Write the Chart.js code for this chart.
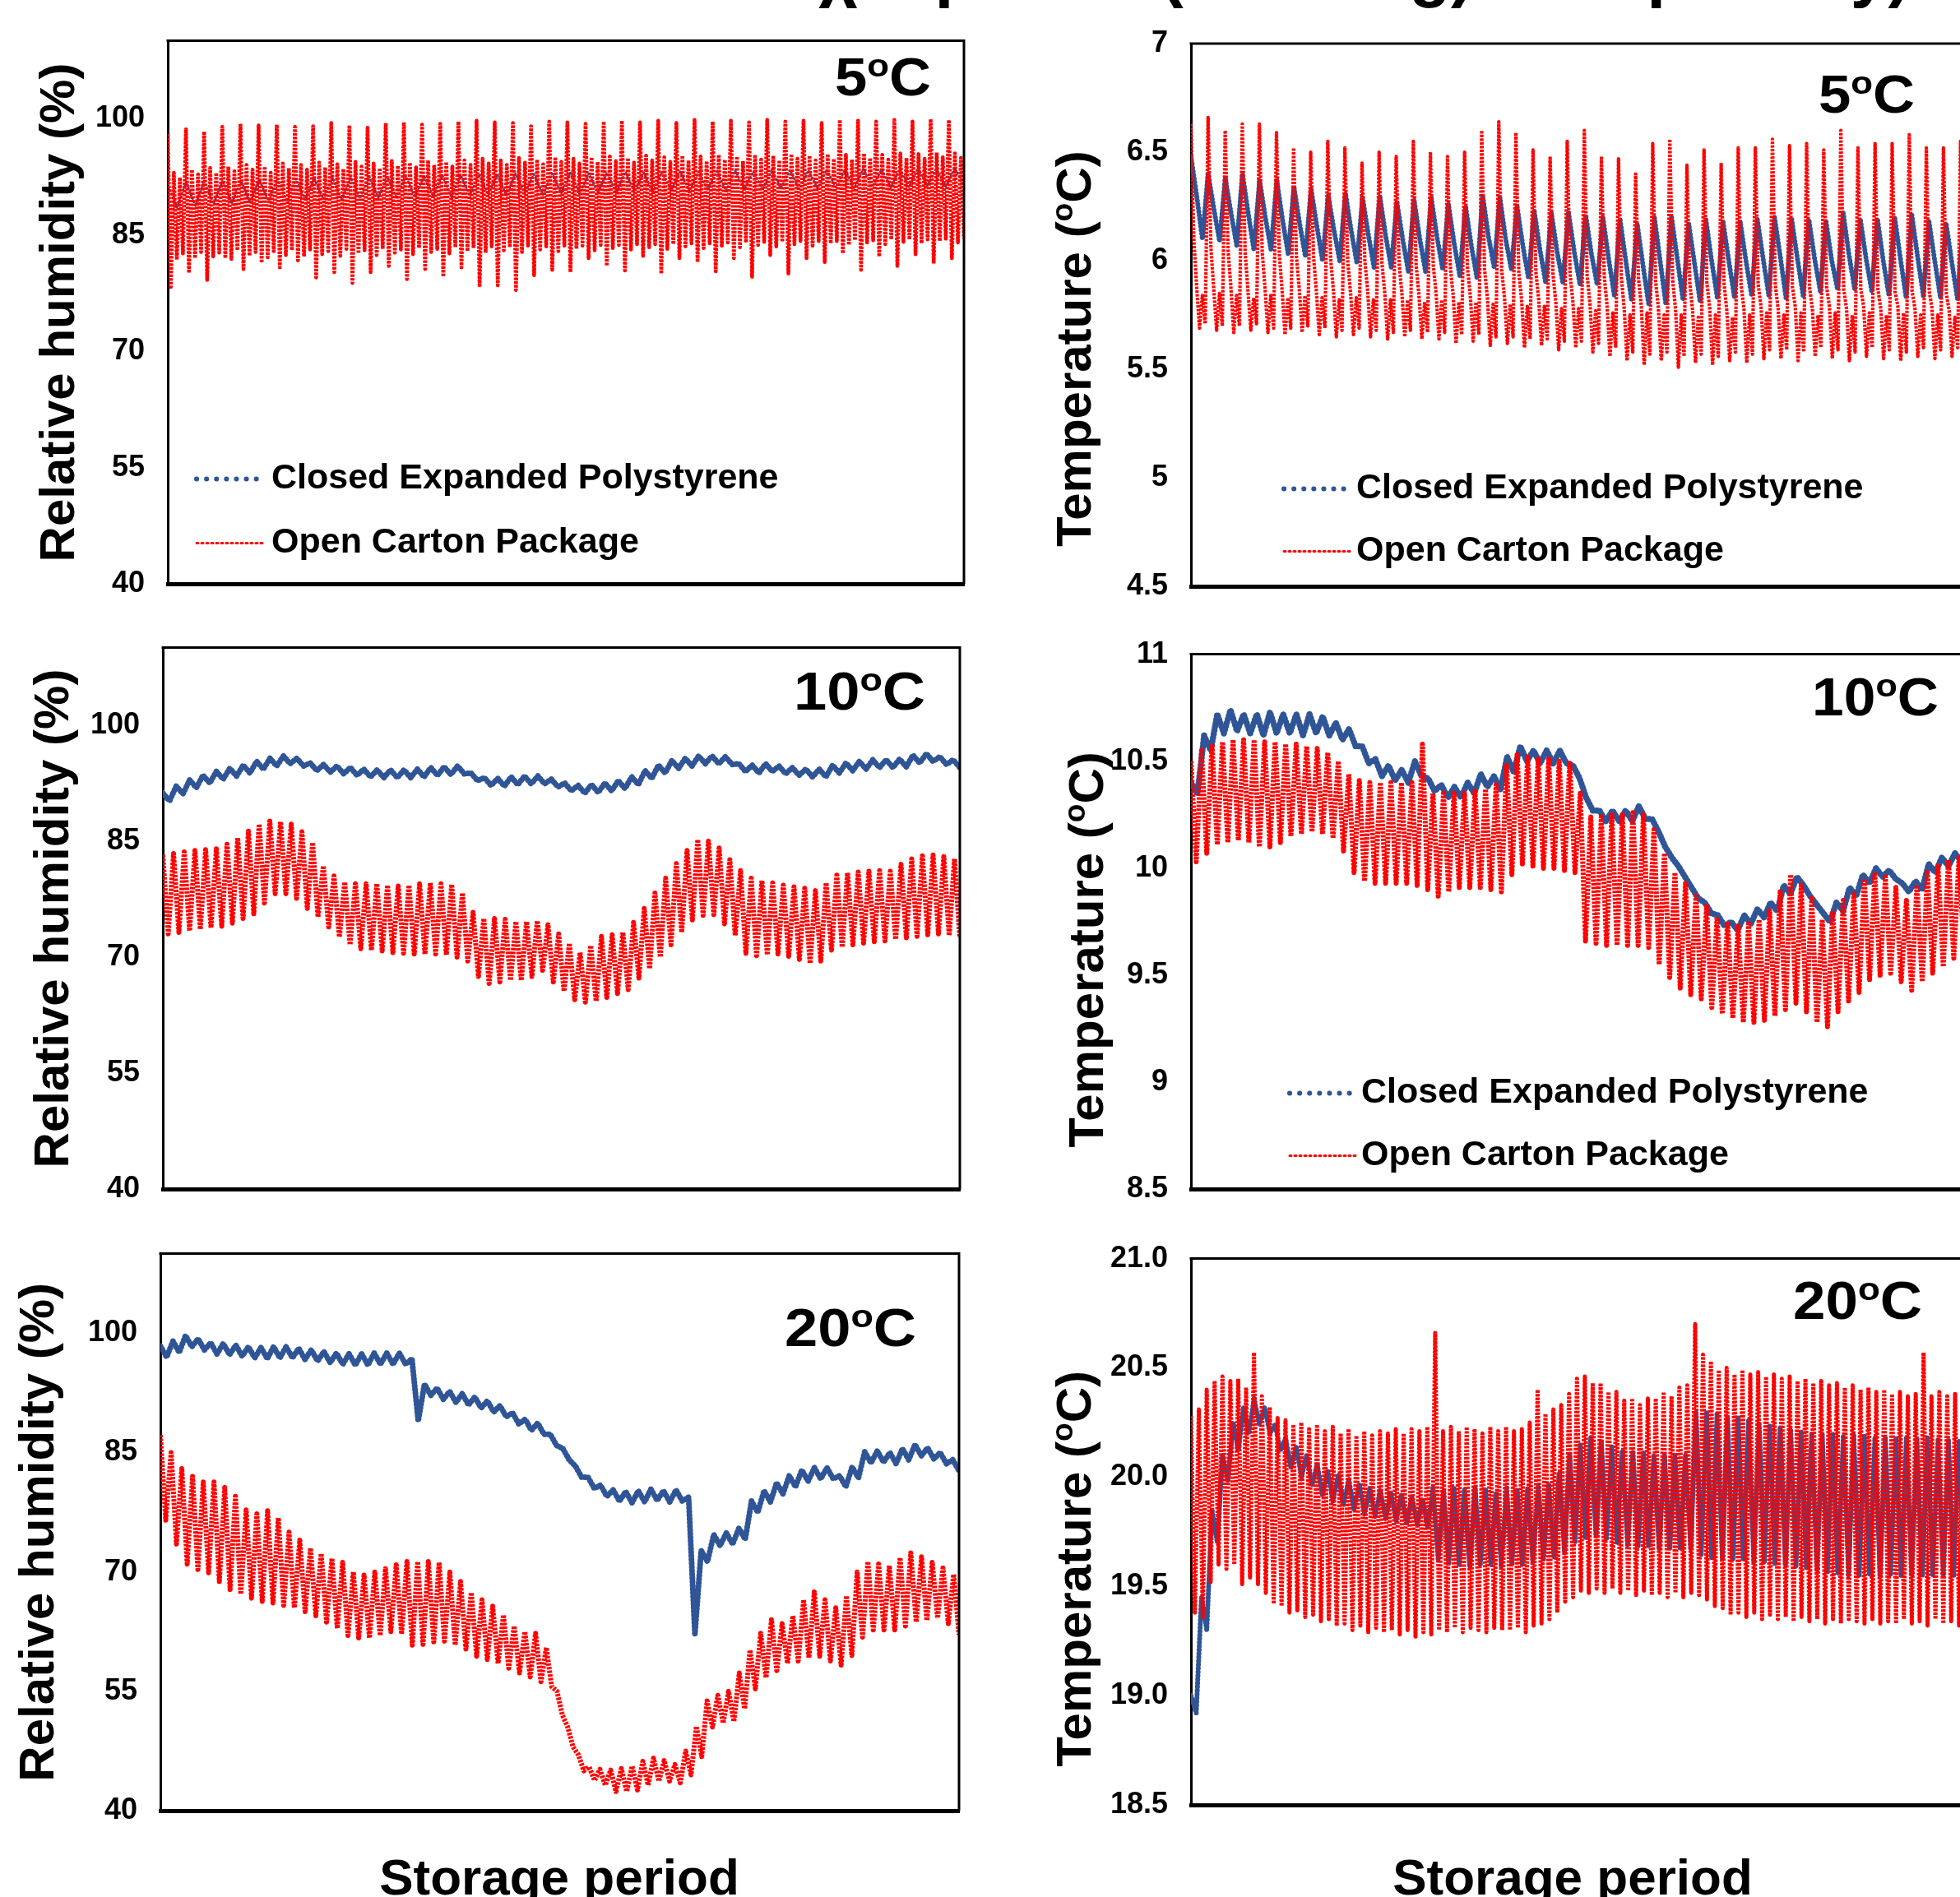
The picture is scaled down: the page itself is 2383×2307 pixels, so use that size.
<!DOCTYPE html>
<html>
<head>
<meta charset="utf-8">
<script src="https://cdn.jsdelivr.net/npm/chart.js@4.4.1/dist/chart.umd.min.js"></script>
<style>
html, body { margin:0; padding:0; background:#fff; width:2383px; height:2307px; overflow:hidden; position:relative; }
canvas { position:absolute; }
#cut { position:absolute; left:995px; top:-80px; font:bold 85px "Liberation Sans", Arial, sans-serif; line-height:85px; white-space:nowrap; color:#000; transform:scaleX(0.97); transform-origin:left top; }
</style>
</head>
<body>
<div id="cut">χ = period (Reading) 24 h per day)</div>
<script>
// ---- series names / axis text
const seriesNames = ['Closed Expanded Polystyrene', 'Open Carton Package'];
const rhTicks = [40, 55, 70, 85, 100];
const rhTickText = ['40', '55', '70', '85', '100'];
const t5Ticks = [4.5, 5, 5.5, 6, 6.5, 7];
const t5TickText = ['4.5', '5', '5.5', '6', '6.5', '7'];
const t10Ticks = [8.5, 9, 9.5, 10, 10.5, 11];
const t10TickText = ['8.5', '9', '9.5', '10', '10.5', '11'];
const t20Ticks = [18.5, 19, 19.5, 20, 20.5, 21];
const t20TickText = ['18.5', '19.0', '19.5', '20.0', '20.5', '21.0'];

// ---- 5 C, relative humidity (one spike per cycle, band read twice per cycle)
const rh5OpenPeak = [98.0,98.6,98.3,98.9,99.3,99.1,99.2,98.9,99.0,99.4,99.1,98.8,
  99.4,99.5,99.2,99.3,99.6,99.7,99.5,99.4,99.0,99.6,99.5,99.3,
  99.6,99.7,99.5,99.7,99.4,99.8,99.6,99.7,99.5,99.8,99.6,99.7,
  99.4,99.8,99.7,99.6,99.8,99.6,99.9,99.8];
const rh5OpenDip = [78.3,80.1,79.2,82.0,80.6,81.4,80.8,81.7,79.5,80.2,78.8,80.2,
  81.0,79.3,80.6,79.6,80.8,78.3,78.5,77.9,79.8,80.5,80.2,82.0,
  81.0,80.4,82.3,80.0,82.0,81.5,80.3,82.0,79.6,82.4,80.0,82.0,
  81.5,82.6,80.5,82.2,81.0,82.5,81.3,82.0];
const rh5OpenHigh = [93.0,92.4,93.4,92.8,93.6,93.0,93.8,93.2,94.0,93.4,93.8,93.0,
  94.2,93.6,94.0,93.4,94.3,93.7,94.1,93.5,94.4,93.8,94.2,93.6,
  94.5,93.9,94.3,93.7,94.6,94.0,94.4,93.8,94.6,94.0,94.8,94.2,
  94.6,94.0,94.9,94.3,94.7,94.1,95.0,94.4,94.8,94.2,95.0,94.4,
  95.1,94.5,94.9,94.3,95.2,94.6,95.0,94.4,95.2,94.6,95.1,94.5,
  95.3,94.7,95.1,94.5,95.3,94.7,95.2,94.6,95.4,94.8,95.2,94.6,
  95.4,94.8,95.3,94.7,95.5,94.9,95.3,94.7,95.5,94.9,95.4,94.8,
  95.6,95.0,95.5,94.9];
const rh5OpenLow = [81.8,82.6,82.0,82.8,82.2,82.7,81.9,83.0,82.3,82.8,82.1,82.9,
  82.4,83.0,82.2,83.1,82.5,82.9,82.3,83.2,82.6,83.0,82.4,83.2,
  82.7,83.1,82.5,83.3,82.8,83.2,82.6,83.4,82.9,83.3,82.7,83.5,
  83.0,83.4,82.8,83.6,83.1,83.5,82.9,83.6,83.2,83.6,83.0,83.7,
  83.3,83.7,83.1,83.8,83.4,83.8,83.2,83.8,83.5,83.9,83.3,83.9,
  83.6,84.0,83.4,84.0,83.7,84.1,83.5,84.1,83.8,84.2,83.6,84.2,
  83.9,84.2,83.7,84.3,84.0,84.3,83.8,84.4,84.1,84.4,83.9,84.4,
  84.2,84.5,84.0,84.5];
const rh5ClosedHigh = [91.6,91.8,91.9,92.0,92.0,92.1,92.2,92.2,92.3,92.4,92.4,92.5,
  92.5,92.6,92.6,92.7,92.7,92.8,92.8,92.9,92.8,92.9,93.0,92.9,
  93.0,93.1,93.0,93.1,93.2,93.1,93.2,93.3,93.2,93.3,93.4,93.3,
  93.4,93.4,93.5,93.4,93.5,93.6,93.5,93.6];
const rh5ClosedLow = [88.5,88.8,89.0,89.1,89.2,89.4,89.3,89.5,89.6,89.5,89.7,89.8,
  89.7,89.9,90.0,89.9,90.1,90.2,90.1,90.3,90.2,90.4,90.3,90.5,
  90.4,90.6,90.5,90.7,90.6,90.8,90.7,90.9,90.8,91.0,90.9,91.0,
  91.1,91.0,91.2,91.1,91.2,91.3,91.2,91.3];

// ---- 10 C, relative humidity (upper / lower turning points)
const rh10OpenHigh = [83.2,83.4,83.6,83.8,83.9,84.0,84.6,85.4,86.3,87.2,
  87.6,87.5,87.2,86.2,84.8,81.8,80.5,79.7,79.5,79.5,
  79.5,79.3,79.2,79.3,79.5,79.6,79.5,79.4,78.3,75.8,
  75.0,75.0,74.9,74.6,74.6,74.7,74.2,73.0,71.8,70.6,
  71.5,72.7,72.9,73.2,74.5,76.3,78.3,80.2,82.1,83.8,
  85.2,85.0,84.1,82.6,81.2,80.2,79.9,79.6,79.3,79.1,
  78.9,78.6,79.6,80.6,80.9,81.0,81.1,81.2,81.1,82.0,
  82.7,83.1,83.2,83.0,82.7];
const rh10OpenLow = [73.0,73.2,73.4,73.6,73.8,74.0,74.4,75.0,75.6,77.0,
  78.2,78.2,77.6,76.3,75.2,73.9,72.6,71.6,71.1,70.9,
  70.8,70.6,70.5,70.4,70.4,70.4,70.3,70.0,69.5,67.5,
  66.6,66.8,67.0,67.0,67.5,68.3,66.8,65.6,64.5,64.2,
  64.3,64.8,65.3,65.8,67.3,68.5,70.0,71.6,73.2,74.8,
  75.4,75.5,74.3,72.8,70.5,70.2,70.3,70.4,70.1,69.7,
  69.2,69.5,70.9,71.3,71.6,71.8,72.0,72.1,72.3,72.5,
  72.7,72.9,73.0,72.8,72.5];
const rh10ClosedHigh = [91.2,92.1,92.9,93.5,94.0,94.4,94.8,95.3,95.7,96.0,
  95.7,95.1,94.9,94.7,94.5,94.3,94.2,94.2,94.2,94.3,
  94.5,94.6,94.7,93.8,93.2,93.1,93.3,93.4,93.4,93.0,
  92.5,92.2,92.3,92.5,92.8,93.3,94.1,94.8,95.4,95.7,
  96.0,96.0,95.9,95.0,94.8,95.0,94.7,94.5,94.3,94.3,
  94.8,95.1,95.3,95.5,95.5,95.6,96.1,96.3,95.9,95.5];
const rh10ClosedLow = [90.2,91.1,91.9,92.5,93.0,93.4,93.8,94.3,94.7,95.0,
  94.7,94.1,93.9,93.7,93.5,93.3,93.2,93.2,93.2,93.3,
  93.5,93.6,93.7,92.8,92.2,92.1,92.3,92.4,92.4,92.0,
  91.5,91.2,91.3,91.5,91.8,92.3,93.1,93.8,94.4,94.7,
  95.0,95.0,94.9,94.0,93.8,94.0,93.7,93.5,93.3,93.3,
  93.8,94.1,94.3,94.5,94.5,94.6,95.1,95.3,94.9,94.5];

// ---- 20 C, relative humidity
const rh20OpenHigh = [87.2,85.0,83.0,82.0,81.3,81.3,80.6,79.5,77.8,77.3,
  77.7,76.8,75.0,74.0,73.0,72.3,71.7,71.2,70.0,69.6,
  70.0,70.4,70.9,71.3,71.3,71.3,71.2,70.0,68.8,67.4,
  66.5,65.7,64.6,63.2,62.5,62.3,60.5,55.0,50.5,47.0,
  45.5,45.2,45.1,45.3,45.6,46.2,46.6,46.3,45.8,47.5,
  50.6,53.8,54.5,55.0,57.3,60.2,62.3,64.0,63.5,64.5,
  66.5,67.5,66.5,65.5,67.0,70.0,71.3,71.0,70.8,71.8,
  72.4,71.9,71.2,70.5,69.7];
const rh20OpenLow = [76.5,73.5,71.0,70.3,69.9,68.8,67.8,67.2,66.7,66.3,
  66.1,65.8,65.5,65.0,64.5,63.7,62.9,62.0,61.7,61.7,
  62.0,62.5,62.2,60.8,60.9,61.2,61.3,60.8,60.3,59.4,
  59.0,58.5,57.9,57.3,56.8,56.2,55.6,52.0,48.0,45.0,
  43.8,43.2,42.4,42.4,42.6,43.2,43.7,43.7,43.5,44.5,
  46.8,50.5,51.0,51.2,52.8,55.3,56.7,57.6,58.5,58.8,
  59.2,59.4,58.8,58.3,59.5,61.8,62.7,62.7,62.7,63.2,
  63.7,63.9,64.2,63.5,62.1];
const rh20ClosedHigh = [98.4,99.0,99.7,99.3,98.8,98.7,98.5,98.3,98.2,98.3,
  98.3,98.1,97.9,97.7,97.5,97.4,97.4,97.5,97.5,97.5,
  96.8,93.6,93.1,92.7,92.4,92.0,91.5,90.9,90.0,89.2,
  88.7,87.3,85.5,83.3,81.9,80.9,80.3,80.1,80.2,80.4,
  80.2,80.3,79.4,72.7,74.7,74.9,75.5,78.9,80.2,81.2,
  82.1,82.8,83.1,83.1,82.1,83.2,85.1,85.2,85.0,85.5,
  86.0,85.6,85.0,84.1];
const rh20ClosedLow = [97.0,97.6,98.3,97.9,97.4,97.3,97.1,96.9,96.8,96.9,
  96.9,96.7,96.5,96.3,96.1,96.0,96.0,96.1,96.1,96.1,
  89.0,92.2,91.7,91.3,91.0,90.6,90.1,89.5,88.6,87.8,
  87.3,85.9,84.1,81.9,80.5,79.5,78.9,78.7,78.8,79.0,
  78.8,78.9,62.2,71.3,73.3,73.5,74.1,77.5,78.8,79.8,
  80.7,81.4,81.7,81.7,80.7,81.8,83.7,83.8,83.6,84.1,
  84.6,84.2,83.6,82.7];

// ---- 5 C, temperature (one door/defrost cycle per entry)
const t5OpenPeak = [6.63,6.66,6.60,6.63,6.63,6.59,6.52,6.50,6.55,6.52,6.45,6.50,
  6.48,6.55,6.50,6.48,6.50,6.60,6.64,6.59,6.51,6.48,6.55,6.60,
  6.48,6.47,6.40,6.54,6.56,6.44,6.51,6.45,6.52,6.52,6.56,6.53,
  6.54,6.51,6.60,6.52,6.54,6.54,6.58,6.52,6.52,6.55];
const t5OpenKnee = [6.10,6.06,6.05,6.04,6.04,6.03,6.02,6.02,6.01,6.00,6.00,5.99,
  5.99,5.98,5.98,5.97,5.97,5.96,5.96,5.95,5.95,5.94,5.94,5.93,
  5.93,5.92,5.92,5.91,5.91,5.90,5.90,5.90,5.89,5.89,5.89,5.88,
  5.88,5.88,5.87,5.87,5.87,5.86,5.86,5.86,5.85,5.85];
const t5OpenHigh = [5.88,5.84,5.87,5.85,5.88,5.84,5.86,5.83,5.87,5.84,5.86,5.83,
  5.87,5.84,5.86,5.83,5.86,5.82,5.85,5.83,5.86,5.82,5.85,5.82,
  5.85,5.82,5.84,5.81,5.85,5.82,5.84,5.81,5.84,5.81,5.83,5.80,
  5.83,5.80,5.82,5.79,5.82,5.79,5.81,5.78,5.81,5.78,5.80,5.77,
  5.79,5.76,5.78,5.75,5.79,5.76,5.78,5.75,5.78,5.75,5.77,5.74,
  5.78,5.75,5.77,5.74,5.78,5.75,5.79,5.76,5.78,5.75,5.79,5.76,
  5.78,5.75,5.79,5.76,5.78,5.75,5.79,5.76,5.78,5.75,5.79,5.76,
  5.78,5.75,5.78,5.75,5.77,5.74,5.78,5.75];
const t5OpenLow = [5.69,5.71,5.68,5.70,5.67,5.70,5.68,5.71,5.67,5.69,5.66,5.69,
  5.67,5.70,5.66,5.69,5.65,5.68,5.66,5.69,5.65,5.68,5.64,5.67,
  5.65,5.68,5.64,5.67,
  5.64,5.67,5.62,5.66,5.63,5.66,5.61,5.65,5.62,5.65,5.60,5.64,
  5.61,5.64,5.59,5.63,5.60,5.63,5.58,5.62,
  5.56,5.60,5.54,5.58,5.52,5.57,5.54,5.58,5.51,5.56,5.53,5.57,
  5.52,5.56,5.54,5.58,5.53,5.57,5.55,5.59,
  5.55,5.59,5.54,5.58,5.56,5.60,5.55,5.59,5.54,5.58,5.56,5.60,
  5.55,5.59,5.54,5.58,5.56,5.60,5.55,5.59,5.56,5.60,5.55,5.59];
const t5ClosedPeak = [6.48,6.40,6.38,6.40,6.37,6.37,6.34,6.33,6.30,6.31,6.29,6.30,
  6.27,6.28,6.29,6.26,6.25,6.30,6.29,6.25,6.23,6.22,6.22,6.21,
  6.20,6.19,6.17,6.20,6.20,6.17,6.19,6.18,6.18,6.19,6.20,6.19,
  6.19,6.18,6.22,6.19,6.19,6.20,6.21,6.18,6.17,6.18];
const t5ClosedKnee = [6.30,6.24,6.22,6.22,6.20,6.19,6.17,6.16,6.14,6.14,6.12,6.12,
  6.10,6.10,6.11,6.08,6.07,6.11,6.10,6.07,6.05,6.04,6.04,6.03,
  6.01,6.00,5.98,6.00,6.01,5.99,6.00,6.00,6.00,6.01,6.02,6.01,
  6.01,6.00,6.03,6.01,6.00,6.01,6.02,6.00,5.99,6.00];
const t5ClosedLow = [6.10,6.09,6.07,6.05,6.05,6.03,6.02,6.00,6.00,5.99,5.97,5.97,
  5.95,5.95,5.96,5.93,5.92,5.97,5.96,5.92,5.90,5.90,5.89,5.89,
  5.84,5.82,5.80,5.80,5.82,5.81,5.83,5.83,5.84,5.84,5.83,5.84,
  5.86,5.87,5.87,5.86,5.84,5.83,5.84,5.83,5.82,5.83];

// ---- 10 C, temperature
const t10OpenHigh = [10.50,10.55,10.58,10.59,10.60,10.60,10.60,10.59,10.59,10.58,
  10.58,10.57,10.56,10.54,10.50,10.44,10.41,10.40,10.40,10.40,
  10.40,10.40,10.58,10.35,10.35,10.35,10.35,10.36,10.37,10.39,
  10.48,10.53,10.52,10.51,10.51,10.50,10.49,10.35,10.24,10.24,
  10.25,10.25,10.26,10.25,10.18,10.07,9.98,9.93,9.88,9.82,
  9.77,9.75,9.73,9.74,9.76,9.80,9.89,9.97,9.92,9.86,
  9.76,9.80,9.85,9.88,9.95,9.97,9.96,9.91,9.85,9.92,
  9.98,10.01,10.04,10.05,10.06];
const t10OpenLow = [10.03,10.07,10.11,10.12,10.13,10.12,10.10,10.10,10.12,10.15,
  10.16,10.17,10.16,10.14,10.08,9.98,9.94,9.93,9.93,9.93,
  9.93,9.92,9.90,9.87,9.89,9.91,9.91,9.91,9.90,9.89,
  9.97,10.02,10.01,10.00,10.00,9.99,9.98,9.66,9.65,9.64,
  9.64,9.64,9.64,9.63,9.55,9.49,9.44,9.41,9.39,9.35,
  9.32,9.30,9.28,9.28,9.29,9.31,9.34,9.37,9.33,9.28,
  9.26,9.33,9.38,9.42,9.48,9.50,9.51,9.47,9.43,9.47,
  9.51,9.54,9.58,9.59,9.60];
const t10ClosedHigh = [10.40,10.62,10.72,10.74,10.72,10.72,10.73,10.72,10.72,10.72,
  10.71,10.68,10.65,10.57,10.51,10.48,10.46,10.50,10.42,10.39,
  10.38,10.40,10.44,10.43,10.52,10.57,10.55,10.55,10.55,10.48,
  10.33,10.27,10.27,10.27,10.29,10.23,10.10,10.01,9.91,9.84,
  9.78,9.75,9.78,9.81,9.84,9.92,9.96,9.87,9.79,9.84,
  9.91,9.97,10.00,9.99,9.93,9.94,10.02,10.05,10.07,10.08];
const t10ClosedLow = [10.35,10.55,10.63,10.64,10.63,10.62,10.63,10.63,10.62,10.63,
  10.62,10.60,10.57,10.49,10.43,10.41,10.40,10.43,10.36,10.33,
  10.33,10.35,10.38,10.37,10.45,10.50,10.49,10.49,10.49,10.42,
  10.27,10.22,10.22,10.22,10.23,10.17,10.05,9.96,9.86,9.79,
  9.73,9.71,9.74,9.77,9.80,9.88,9.92,9.83,9.75,9.80,
  9.87,9.93,9.96,9.95,9.89,9.90,9.98,10.01,10.03,10.04];

// ---- 20 C, temperature
const t20OpenHigh = [20.28,20.31,20.40,20.44,20.46,20.44,20.45,20.41,20.57,20.37,
  20.32,20.27,20.26,20.24,20.25,20.22,20.24,20.21,20.23,20.20,
  20.22,20.19,20.21,20.19,20.21,20.20,20.22,20.20,20.22,20.21,
  20.23,20.66,20.21,20.23,20.21,20.23,20.22,20.20,20.23,20.21,
  20.23,20.21,20.22,20.25,20.40,20.29,20.31,20.33,20.38,20.45,
  20.46,20.43,20.43,20.39,20.39,20.35,20.36,20.33,20.36,20.36,
  20.39,20.37,20.41,20.42,20.70,20.56,20.53,20.49,20.50,20.47,
  20.49,20.47,20.48,20.46,20.47,20.45,20.46,20.44,20.45,20.43,
  20.44,20.42,20.43,20.41,20.42,20.40,20.41,20.39,20.40,20.38,
  20.39,20.37,20.38,20.57,20.37,20.39,20.37,20.38,20.36,20.38];
const t20OpenLow = [19.38,19.36,19.52,19.60,19.58,19.60,19.51,19.54,19.51,19.47,
  19.42,19.41,19.38,19.39,19.36,19.37,19.34,19.35,19.32,19.33,
  19.30,19.32,19.29,19.31,19.29,19.30,19.28,19.30,19.27,19.29,
  19.28,19.30,19.29,19.31,19.29,19.31,19.30,19.29,19.31,19.30,
  19.30,19.31,19.29,19.32,19.33,19.35,19.38,19.43,19.45,19.48,
  19.47,19.49,19.47,19.49,19.47,19.48,19.46,19.48,19.46,19.47,
  19.45,19.47,19.45,19.47,19.46,19.44,19.41,19.40,19.37,19.38,
  19.36,19.38,19.35,19.37,19.35,19.36,19.34,19.36,19.34,19.35,
  19.33,19.35,19.33,19.35,19.34,19.33,19.35,19.33,19.34,19.33,
  19.35,19.33,19.34,19.32,19.35,19.33,19.34,19.32,19.34,19.33];
const t20ClosedHigh = [19.00,19.45,19.85,20.10,20.25,20.32,20.36,20.32,20.24,20.18,
  20.14,20.10,20.06,20.03,20.01,19.99,19.97,19.95,19.94,19.93,
  19.92,19.91,19.90,19.95,19.94,19.95,19.94,19.95,19.94,19.93,
  19.95,19.94,19.95,19.96,19.97,20.02,20.10,20.15,20.18,20.16,
  20.14,20.12,20.12,20.11,20.10,20.10,20.10,20.10,20.30,20.30,
  20.29,20.28,20.27,20.26,20.25,20.24,20.23,20.22,20.21,20.20,
  20.20,20.20,20.19,20.19,20.19,20.18,20.18,20.18,20.18,20.18,
  20.18,20.17,20.17,20.17,20.17];
const t20ClosedLow = [18.92,19.30,19.70,19.98,20.12,20.20,20.24,20.20,20.12,20.04,
  20.00,19.96,19.92,19.89,19.87,19.85,19.83,19.82,19.81,19.80,
  19.79,19.78,19.77,19.62,19.60,19.60,19.59,19.60,19.60,19.59,
  19.60,19.60,19.61,19.62,19.63,19.66,19.70,19.72,19.73,19.72,
  19.70,19.69,19.68,19.68,19.67,19.67,19.67,19.67,19.64,19.63,
  19.63,19.62,19.62,19.61,19.61,19.60,19.60,19.59,19.58,19.57,
  19.56,19.56,19.55,19.55,19.55,19.55,19.55,19.55,19.55,19.55,
  19.55,19.55,19.55,19.55,19.55];

// ---- helpers
const FONT = '"Liberation Sans", Arial, sans-serif';
const RED = '#ff0000';
const BLUE = '#2f5597';
Chart.defaults.font.family = FONT;

// readings taken in logging order: a0,b0,c0, a1,b1,c1 ...
function weave(...cols) {
    const out = [];
    for (let k = 0; k < cols[0].length; k++) cols.forEach(c => out.push(c[k]));
    return out;
}
// one cycle = peak, second reading, then two band swings
function spikeCycles(peak, second, high, low) {
    const out = [];
    for (let k = 0; k < peak.length; k++) {
        out.push(peak[k], second[k], high[2*k], low[2*k], high[2*k+1], low[2*k+1]);
    }
    return out;
}
function toXY(arr) {
    return arr.map((v, i) => ({ x: i / (arr.length - 1), y: v }));
}

function drawParts(ctx, parts, x, y, size, align, targetW) {
    ctx.save();
    ctx.textBaseline = 'alphabetic';
    ctx.textAlign = 'left';
    const fonts = parts.map(([, sup]) => `bold ${sup ? size * 0.62 : size}px ${FONT}`);
    const widths = parts.map(([t], i) => { ctx.font = fonts[i]; return ctx.measureText(t).width; });
    const w = widths.reduce((a, b) => a + b, 0);
    const sx = targetW ? targetW / w : 1;
    ctx.translate(x, y);
    ctx.scale(sx, 1);
    let cx = align === 'right' ? -w : align === 'center' ? -w / 2 : 0;
    parts.forEach(([t, sup], i) => {
        ctx.font = fonts[i];
        ctx.fillText(t, cx, sup ? -size * 0.36 : 0);
        cx += widths[i];
    });
    ctx.restore();
}

const rhTitle = [['Relative humidity (%)', 0]];
const tTitle = [['Temperature (', 0], ['o', 1], ['C)', 0]];

const panels = [
    { cv: [0, 0, 1192, 760], L: 204, T: 33, R: 1172, B: 711, min: 40, max: 110, ticks: rhTicks, tickText: rhTickText,
      red: spikeCycles(rh5OpenPeak, rh5OpenDip, rh5OpenHigh, rh5OpenLow), blue: weave(rh5ClosedHigh, rh5ClosedLow),
      redW: 4.6, blueW: 3,
      title: rhTitle, titleDX: 136, titleDY: 0, tag: '5', tagRight: 40, tagBase: 66, tagW: 117,
      legend: { lx: 35, tx: 126, rows: [128, 50] } },
    { cv: [0, 738, 1187, 1496], L: 198, T: 778, R: 1167, B: 1456, min: 40, max: 110, ticks: rhTicks, tickText: rhTickText,
      red: weave(rh10OpenHigh, rh10OpenLow), blue: weave(rh10ClosedHigh, rh10ClosedLow),
      redW: 6, blueW: 7,
      title: rhTitle, titleDX: 137, titleDY: 0, tag: '10', tagRight: 42, tagBase: 75, tagW: 160 },
    { cv: [0, 1475, 1186, 2307], L: 195, T: 1515, R: 1166, B: 2202, min: 40, max: 110, ticks: rhTicks, tickText: rhTickText,
      red: weave(rh20OpenHigh, rh20OpenLow), blue: weave(rh20ClosedHigh, rh20ClosedLow),
      redW: 6, blueW: 7,
      title: rhTitle, titleDX: 152, titleDY: 0, tag: '20', tagRight: 52, tagBase: 112, tagW: 160,
      xTitle: [680, 2304] },
    { cv: [1230, 0, 2421, 763], L: 1448, T: 53, R: 2401, B: 723, min: 4.5, max: 7, ticks: t5Ticks, tickText: t5TickText,
      red: spikeCycles(t5OpenPeak, t5OpenKnee, t5OpenHigh, t5OpenLow), blue: weave(t5ClosedPeak, t5ClosedKnee, t5ClosedLow),
      redW: 4.2, blueW: 6,
      title: tTitle, titleDX: 144, titleDY: 41, tag: '5', tagRight: 73, tagBase: 84, tagW: 117,
      legend: { lx: 113, tx: 201, rows: [119, 43] } },
    { cv: [1230, 746, 2421, 1496], L: 1448, T: 786, R: 2401, B: 1456, min: 8.5, max: 11, ticks: t10Ticks, tickText: t10TickText,
      red: weave(t10OpenHigh, t10OpenLow), blue: weave(t10ClosedHigh, t10ClosedLow),
      redW: 6, blueW: 7.5,
      title: tTitle, titleDX: 129, titleDY: 34, tag: '10', tagRight: 44, tagBase: 74, tagW: 154,
      legend: { lx: 120, tx: 207, rows: [117, 41] } },
    { cv: [1230, 1481, 2421, 2307], L: 1448, T: 1521, R: 2401, B: 2195, min: 18.5, max: 21, ticks: t20Ticks, tickText: t20TickText,
      red: weave(t20OpenHigh, t20OpenLow), blue: weave(t20ClosedHigh, t20ClosedLow),
      redW: 5, blueW: 6,
      title: tTitle, titleDX: 144, titleDY: 45, tag: '20', tagRight: 64, tagBase: 73, tagW: 157,
      xTitle: [1912, 2304] }
];

const legendRows = [
    { label: seriesNames[0], color: BLUE, dash: [0.1, 12], width: 6 },
    { label: seriesNames[1], color: RED, dash: [2, 4], width: 3 }
];

function decorFor(p) {
    return {
        id: 'decor',
        afterDraw(chart) {
            const ctx = chart.ctx, a = chart.chartArea;
            ctx.save();
            ctx.setLineDash([]);
            ctx.strokeStyle = '#000';
            ctx.lineWidth = 3;
            ctx.beginPath();
            ctx.moveTo(a.left - 1.5, a.top);
            ctx.lineTo(a.right, a.top);
            ctx.lineTo(a.right, a.bottom);
            ctx.stroke();
            ctx.fillStyle = '#000';
            drawParts(ctx, [[p.tag, 0], ['o', 1], ['C', 0]], a.right - p.tagRight, a.top + p.tagBase, 64, 'right', p.tagW);

            ctx.save();
            ctx.translate(a.left - p.titleDX, (a.top + a.bottom) / 2 + p.titleDY);
            ctx.rotate(-Math.PI / 2);
            drawParts(ctx, p.title, 0, 22, 60, 'center');
            ctx.restore();

            if (p.legend) {
                legendRows.forEach((row, i) => {
                    const y = a.bottom - p.legend.rows[i];
                    ctx.beginPath();
                    ctx.setLineDash(row.dash);
                    ctx.lineCap = 'round';
                    ctx.lineWidth = row.width;
                    ctx.strokeStyle = row.color;
                    ctx.moveTo(a.left + p.legend.lx, y);
                    ctx.lineTo(a.left + p.legend.lx + 80, y);
                    ctx.stroke();
                    ctx.setLineDash([]);
                    ctx.font = `bold 43px ${FONT}`;
                    ctx.textBaseline = 'middle';
                    ctx.textAlign = 'left';
                    ctx.fillStyle = '#000';
                    ctx.fillText(row.label, a.left + p.legend.tx, y);
                });
            }
            if (p.xTitle) {
                ctx.font = `bold 62px ${FONT}`;
                ctx.textAlign = 'center';
                ctx.textBaseline = 'alphabetic';
                ctx.fillText('Storage period', p.xTitle[0] - p.cv[0], p.xTitle[1] - p.cv[1]);
            }
            ctx.restore();
        }
    };
}

panels.forEach(p => {
    const cv = document.createElement('canvas');
    const w = p.cv[2] - p.cv[0], h = p.cv[3] - p.cv[1];
    cv.width = w; cv.height = h;
    cv.style.left = p.cv[0] + 'px';
    cv.style.top = p.cv[1] + 'px';
    cv.style.width = w + 'px';
    cv.style.height = h + 'px';
    document.body.appendChild(cv);

    new Chart(cv, {
        type: 'line',
        data: {
            datasets: [
                { label: seriesNames[1], data: toXY(p.red), borderColor: RED, borderWidth: p.redW,
                  borderDash: [3, 1.5], borderJoinStyle: 'round', pointRadius: 0, tension: 0, order: 0 },
                { label: seriesNames[0], data: toXY(p.blue), borderColor: BLUE, borderWidth: p.blueW,
                  borderDash: [0.5, 4], borderCapStyle: 'round', borderJoinStyle: 'round', pointRadius: 0, tension: 0, order: 1 }
            ]
        },
        options: {
            responsive: false,
            animation: false,
            events: [],
            layout: { padding: { left: 0, top: p.T - p.cv[1], right: p.cv[2] - p.R, bottom: p.cv[3] - p.B - 2 } },
            plugins: { legend: { display: false }, tooltip: { enabled: false } },
            scales: {
                x: {
                    type: 'linear', min: 0, max: 1,
                    ticks: { display: false },
                    grid: { display: false, drawTicks: false },
                    border: { display: true, color: '#000', width: 5, dash: [3, 3] },
                    afterFit: s => { s.height = 2; }
                },
                y: {
                    min: p.min, max: p.max,
                    grid: { display: false, drawTicks: false },
                    border: { display: true, color: '#000', width: 3 },
                    ticks: {
                        color: '#000', padding: 28,
                        font: { size: 36, weight: 'bold', family: FONT },
                        callback: (v, i) => p.tickText[i]
                    },
                    afterBuildTicks: s => { s.ticks = p.ticks.map(v => ({ value: v })); },
                    afterFit: s => { s.width = p.L - p.cv[0]; }
                }
            }
        },
        plugins: [decorFor(p)]
    });
});
</script>
</body>
</html>
